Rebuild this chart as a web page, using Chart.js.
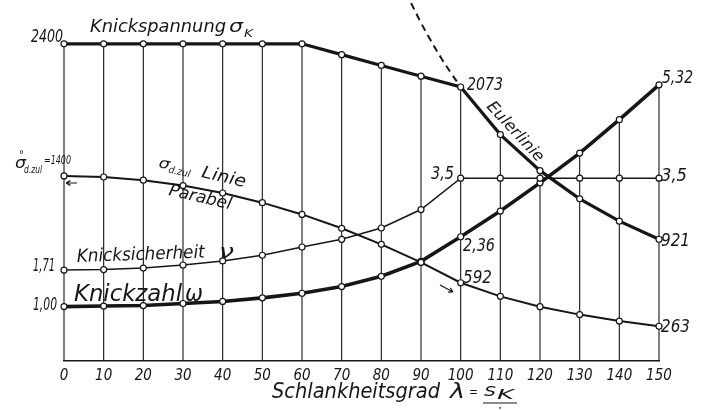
<!DOCTYPE html>
<html>
<head>
<meta charset="utf-8">
<script src="https://cdn.jsdelivr.net/npm/chart.js@4.4.1/dist/chart.umd.min.js"></script>
<style>
  html, body { margin: 0; padding: 0; background: #fff; }
  #wrap { width: 707px; height: 410px; }
</style>
</head>
<body>
<div id="wrap"><canvas id="knickChart" width="707" height="410"></canvas></div>
<script>
// Schlankheitsgrad lambda (x axis)
const lambdas = [0, 10, 20, 30, 40, 50, 60, 70, 80, 90, 100, 110, 120, 130, 140, 150];
// Knickspannung sigma_K [kg/cm2]
const sigmaK = [2400, 2400, 2400, 2400, 2400, 2400, 2400, 2318, 2236, 2155, 2073, 1713, 1440, 1227, 1058, 921];
// zulaessige Druckspannung sigma_d.zul [kg/cm2]
const sigmaZul = [1400, 1392, 1368, 1327, 1271, 1198, 1109, 1004, 883, 746, 592, 489, 411, 351, 302, 263];
// Knicksicherheit nu
const nu = [1.71, 1.72, 1.75, 1.81, 1.89, 2.00, 2.16, 2.31, 2.53, 2.89, 3.50, 3.50, 3.50, 3.50, 3.50, 3.50];
// Knickzahl omega
const omega = [1.00, 1.01, 1.02, 1.06, 1.10, 1.17, 1.26, 1.39, 1.59, 1.88, 2.36, 2.86, 3.41, 3.99, 4.64, 5.32];
// Eulerlinie (dashed continuation above lambda = 100)
const eulerLambdas = [87.5, 90, 92.5, 95, 97.5, 100];
const eulerSigma = [2708, 2559, 2423, 2297, 2181, 2073];

const INK = "#161616";
const FONT = '"DejaVu Sans Condensed", "DejaVu Sans", sans-serif';

function pts(xs, ys) {
  return xs.map((x, i) => ({ x: x, y: ys[i] }));
}

function curve(label, data, axis, width) {
  return {
    label: label,
    data: data,
    yAxisID: axis,
    borderColor: INK,
    borderWidth: width,
    pointRadius: 3,
    pointBackgroundColor: "#fff",
    pointBorderColor: INK,
    pointBorderWidth: 1.2,
    tension: 0,
    clip: false
  };
}

// italic text, left x / baseline y, squeezed to width w when given
function txt(ctx, s, x, y, size, w) {
  ctx.font = `italic ${size}px ${FONT}`;
  const mw = ctx.measureText(s).width;
  ctx.save();
  ctx.translate(x, y);
  if (w) ctx.scale(w / mw, 1);
  ctx.fillText(s, 0, 0);
  ctx.restore();
}

function arrow(ctx, x1, y1, x2, y2) {
  const a = Math.atan2(y2 - y1, x2 - x1);
  ctx.beginPath();
  ctx.moveTo(x1, y1);
  ctx.lineTo(x2, y2);
  ctx.moveTo(x2, y2);
  ctx.lineTo(x2 - 5 * Math.cos(a - 0.5), y2 - 5 * Math.sin(a - 0.5));
  ctx.moveTo(x2, y2);
  ctx.lineTo(x2 - 5 * Math.cos(a + 0.5), y2 - 5 * Math.sin(a + 0.5));
  ctx.stroke();
}

// vertical lines from the highest curve point down to the axis
const verticals = {
  id: "verticals",
  beforeDatasetsDraw(chart) {
    const ctx = chart.ctx;
    const metas = [0, 1, 2, 3].map(i => chart.getDatasetMeta(i));
    ctx.save();
    ctx.strokeStyle = INK;
    ctx.lineWidth = 1.1;
    lambdas.forEach((l, j) => {
      const x = metas[0].data[j].x;
      const top = Math.min(...metas.map(m => m.data[j].y));
      ctx.beginPath();
      ctx.moveTo(x, top);
      ctx.lineTo(x, chart.chartArea.bottom);
      ctx.stroke();
    });
    ctx.restore();
  }
};

const labels = {
  id: "labels",
  afterDraw(chart) {
    const ctx = chart.ctx;
    ctx.save();
    ctx.fillStyle = INK;
    ctx.strokeStyle = INK;
    ctx.lineWidth = 1.2;
    ctx.textBaseline = "alphabetic";

    txt(ctx, "2400", 31, 42, 18, 32);
    txt(ctx, "Knickspannung", 90, 32, 18, 136);
    txt(ctx, "σ", 229, 32, 18, 14);
    txt(ctx, "K", 244, 37, 11, 9);

    txt(ctx, "σ", 15, 168, 15, 11);
    txt(ctx, "°", 19, 158, 10, 5);
    txt(ctx, "d.zul", 24, 173, 10, 18);
    txt(ctx, "=1400", 44, 164, 12, 27);
    arrow(ctx, 77, 183, 66, 183);

    ctx.save();
    ctx.translate(158, 167);
    ctx.rotate(13 * Math.PI / 180);
    txt(ctx, "σ", 0, 0, 15, 11);
    txt(ctx, "d.zul", 11, 3, 10, 22);
    txt(ctx, "Linie", 44, 0, 17, 45);
    ctx.restore();

    ctx.save();
    ctx.translate(168, 195);
    ctx.rotate(13 * Math.PI / 180);
    txt(ctx, "Parabel", 0, 0, 17, 64);
    ctx.restore();

    ctx.save();
    ctx.translate(77, 262);
    ctx.rotate(-2 * Math.PI / 180);
    txt(ctx, "Knicksicherheit", 0, 0, 18, 128);
    ctx.restore();
    txt(ctx, "ν", 219, 258, 19, 15);
    txt(ctx, "1,71", 33, 271, 17, 22);

    txt(ctx, "Knickzahl", 74, 301, 23, 108);
    txt(ctx, "ω", 185, 301, 23, 18);
    txt(ctx, "1,00", 33, 310, 18, 24);

    txt(ctx, "3,5", 431, 179, 17, 23);
    txt(ctx, "2073", 467, 90, 17, 36);

    ctx.save();
    ctx.translate(515, 132);
    ctx.rotate(47 * Math.PI / 180);
    ctx.textBaseline = "middle";
    txt(ctx, "Eulerlinie", -38, 0, 16, 76);
    ctx.restore();

    txt(ctx, "5,32", 662, 83, 17, 31);
    txt(ctx, "3,5", 661, 181, 17, 26);
    txt(ctx, "921", 661, 246, 17, 29);
    txt(ctx, "263", 661, 332, 17, 29);
    txt(ctx, "2,36", 463, 251, 17, 32);
    txt(ctx, "592", 463, 283, 17, 29);
    arrow(ctx, 440, 285, 453, 292);

    txt(ctx, "Schlankheitsgrad", 272, 398, 21, 168);
    txt(ctx, "λ", 450, 398, 21, 15);
    txt(ctx, "=", 469, 396, 13, 9);
    txt(ctx, "s", 484, 396, 18, 12);
    txt(ctx, "K", 497, 399, 14, 17);
    ctx.beginPath();
    ctx.moveTo(483, 403);
    ctx.lineTo(517, 403);
    ctx.stroke();
    txt(ctx, "i", 497, 418, 14, 4);
    ctx.restore();
  }
};

new Chart(document.getElementById("knickChart"), {
  type: "line",
  data: {
    datasets: [
      curve("Knickspannung", pts(lambdas, sigmaK), "ys", 3.2),
      curve("sigma d.zul", pts(lambdas, sigmaZul), "ys", 2),
      curve("Knicksicherheit", pts(lambdas, nu), "yn", 1.5),
      curve("Knickzahl", pts(lambdas, omega), "yn", 3.6),
      {
        label: "Eulerlinie",
        data: pts(eulerLambdas, eulerSigma),
        yAxisID: "ys",
        borderColor: INK,
        borderWidth: 2,
        borderDash: [7, 5],
        pointRadius: 0,
        tension: 0.4,
        clip: false
      }
    ]
  },
  options: {
    responsive: false,
    devicePixelRatio: 1,
    animation: false,
    layout: { padding: { left: 64, right: 48, top: 0, bottom: 27 } },
    plugins: { legend: { display: false }, tooltip: { enabled: false } },
    scales: {
      x: {
        type: "linear",
        min: 0,
        max: 150,
        grid: { display: false },
        border: { display: true, color: INK, width: 1.5 },
        ticks: {
          stepSize: 10,
          autoSkip: false,
          maxRotation: 0,
          padding: -2,
          color: INK,
          font: { family: FONT, size: 15, style: "italic" }
        }
      },
      ys: { type: "linear", display: false, min: 0, max: 2692 },
      yn: { type: "linear", display: false, min: -0.06, max: 6.87 }
    }
  },
  plugins: [verticals, labels]
});
</script>
</body>
</html>
